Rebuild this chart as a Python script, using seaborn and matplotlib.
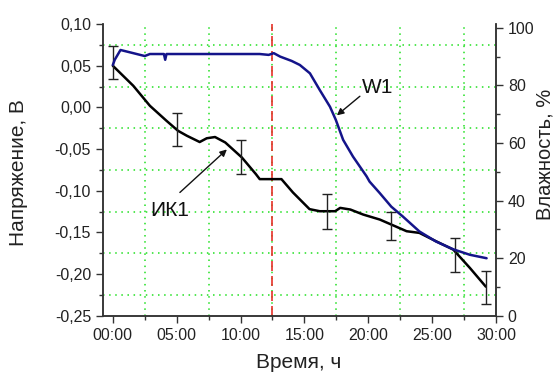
import matplotlib
matplotlib.use("Agg")
import matplotlib.pyplot as plt
import seaborn as sns
from matplotlib.ticker import MultipleLocator, FuncFormatter

# ИК1 - voltage, V (left axis)
ik_time = [0.0, 0.8, 1.6, 2.9, 4.2, 5.1, 5.8, 6.8, 7.35, 8.0, 8.8, 10.1,
           11.2, 11.5, 13.2, 14.1, 15.4, 16.2, 17.4, 17.8, 18.6, 19.6,
           20.9, 21.8, 23.0, 24.0, 25.3, 26.65, 27.95, 29.2]
ik_volt = [0.050, 0.038, 0.026, 0.002, -0.016, -0.028, -0.034, -0.0415,
           -0.037, -0.0355, -0.042, -0.060, -0.080, -0.086, -0.086, -0.102,
           -0.122, -0.1245, -0.1245, -0.1205, -0.1225, -0.1285, -0.1345,
           -0.1405, -0.1485, -0.1505, -0.1605, -0.1705, -0.1925, -0.215]

# error bars on ИК1
err_time = [0.05, 5.05, 10.05, 16.8, 21.8, 26.75, 29.2]
err_volt = [0.054, -0.0266, -0.0595, -0.1245, -0.142, -0.177, -0.216]
err_half = [0.020, 0.020, 0.0205, 0.021, 0.017, 0.020, 0.020]

# W1 - humidity, % (right axis)
w_time = [0.0, 0.15, 0.6, 1.6, 2.5, 2.9, 4.0, 4.1, 4.2, 6.0, 8.0, 10.0,
          11.5, 12.2, 12.6, 13.1, 14.0, 14.64, 15.43, 16.2, 17.0, 17.46,
          18.03, 18.8, 19.87, 20.1, 20.9, 21.8, 22.7, 24.0, 25.3, 26.65,
          27.95, 29.26]
w_hum = [87.1, 88.9, 92.3, 91.2, 90.2, 90.9, 90.9, 88.9, 90.9, 90.9, 90.9,
         90.9, 90.9, 90.6, 91.2, 90.0, 88.5, 87.1, 84.2, 78.4, 72.6, 68.0,
         61.1, 55.3, 48.4, 46.6, 42.6, 37.9, 34.5, 29.3, 25.8, 23.1, 21.2,
         20.0]

sns.set_style("ticks")
plt.rcParams['font.family'] = ['Liberation Sans', 'DejaVu Sans']

fig, ax = plt.subplots(figsize=(5.53, 3.76), dpi=100)
fig.subplots_adjust(left=0.186, right=0.897, top=0.936, bottom=0.160)
ax2 = ax.twinx()

grid_kw = dict(color="#22e022", linestyle=(0, (1, 3)), linewidth=1.1)
ax.set_axisbelow(True)
ax.grid(False)
ax2.grid(False)

ax.set_xlim(-0.78, 30)
ax.set_ylim(-0.25, 0.10)
ax2.set_ylim(0, 101.3)

ax.xaxis.set_major_locator(MultipleLocator(5))
ax.xaxis.set_minor_locator(MultipleLocator(2.5))
ax.yaxis.set_major_locator(MultipleLocator(0.05))
ax.yaxis.set_minor_locator(MultipleLocator(0.025))
ax2.yaxis.set_major_locator(MultipleLocator(20))
ax2.yaxis.set_minor_locator(MultipleLocator(10))
ax.xaxis.grid(True, which='minor', **grid_kw)
ax.yaxis.grid(True, which='minor', **grid_kw)

ax.xaxis.set_major_formatter(FuncFormatter(lambda v, p: f"{int(round(v)):02d}:00"))
ax.yaxis.set_major_formatter(
    FuncFormatter(lambda v, p: f"{v:.2f}".replace('.', ',').replace('-0,00', '0,00')))

ax.axvline(12.5, color="#e8302a", linestyle=(0, (6, 3)), linewidth=1.2, zorder=1)

sns.lineplot(x=ik_time, y=ik_volt, ax=ax, color="black", linewidth=1.8, zorder=3)
ax.errorbar(err_time, err_volt, yerr=err_half, fmt='none', ecolor="#222222",
            elinewidth=1.0, capsize=3.5, capthick=1.0, zorder=3)
sns.lineplot(x=w_time, y=w_hum, ax=ax2, color="#14148a", linewidth=1.8, zorder=3)

ax.text(4.46, -0.1237, "ИК1", fontsize=15, ha='center', va='center', color="#111111")
ax.annotate("", xy=(8.93, -0.0504), xytext=(5.25, -0.102),
            arrowprops=dict(arrowstyle='-|>', color="#111111", lw=1.0,
                            mutation_scale=10, shrinkA=0, shrinkB=0))
ax.text(20.7, 0.0242, "W1", fontsize=15, ha='center', va='center', color="#111111")
ax.annotate("", xy=(17.54, -0.0095), xytext=(19.34, 0.0134),
            arrowprops=dict(arrowstyle='-|>', color="#111111", lw=1.0,
                            mutation_scale=10, shrinkA=0, shrinkB=0))

for a in (ax, ax2):
    a.spines['top'].set_visible(False)
    for s in ('left', 'right', 'bottom'):
        a.spines[s].set_color("#333333")
        a.spines[s].set_linewidth(1.1)
ax.tick_params(which='major', direction='out', length=5, width=1.0,
               labelsize=11.5, colors="#333333", labelcolor="#222222")
ax.tick_params(which='minor', direction='out', length=3, width=1.0, colors="#333333")
ax2.tick_params(which='major', direction='out', length=5, width=1.0,
                labelsize=11.5, colors="#333333", labelcolor="#222222")
ax2.tick_params(which='minor', direction='out', length=3, width=1.0, colors="#333333")

ax.set_xlabel("Время, ч", fontsize=15, color="#222222")
ax.set_ylabel("Напряжение, В", fontsize=15, color="#222222")
ax2.set_ylabel("Влажность, %", fontsize=14.5, color="#222222")
ax.xaxis.set_label_coords(0.499, -0.128)
ax.yaxis.set_label_coords(-0.19, 0.49)
ax2.yaxis.set_label_coords(1.10, 0.555)

fig.savefig("out.png", dpi=100)
